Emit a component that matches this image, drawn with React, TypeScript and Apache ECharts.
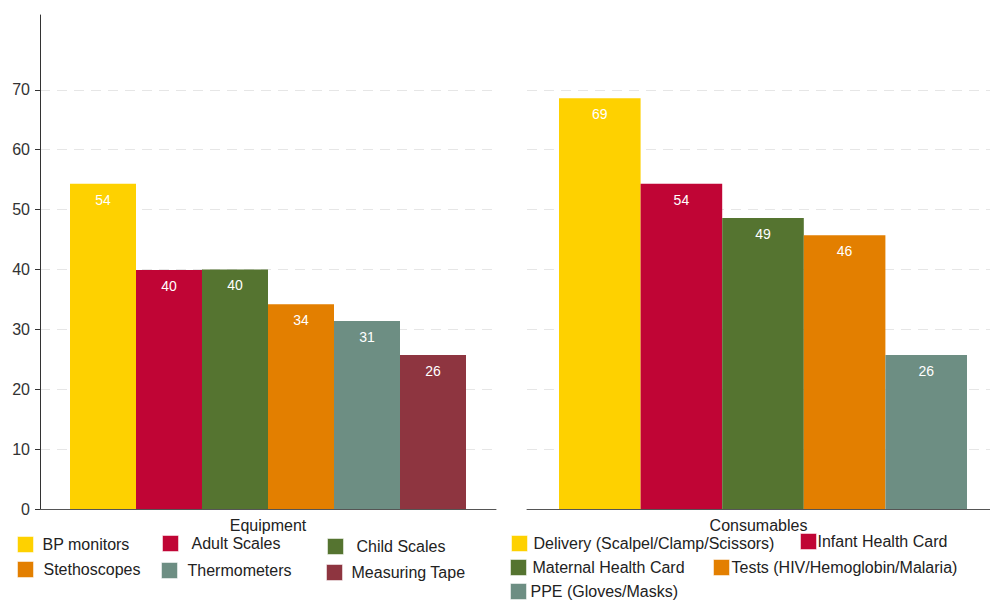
import React, { useEffect, useRef } from "react";
import * as echarts from "echarts";

const equipNames = ["BP monitors", "Adult Scales", "Child Scales", "Stethoscopes", "Thermometers", "Measuring Tape"];
const equipValues = [54.3, 39.9, 40.0, 34.2, 31.4, 25.7];
const equipColors = ["#FED100", "#C00535", "#557430", "#E37F00", "#6D8E83", "#8E3540"];

const consNames = [
  "Delivery (Scalpel/Clamp/Scissors)",
  "Infant Health Card",
  "Maternal Health Card",
  "Tests (HIV/Hemoglobin/Malaria)",
  "PPE (Gloves/Masks)",
];
const consValues = [68.6, 54.3, 48.6, 45.7, 25.7];
const consColors = ["#FED100", "#C00535", "#557430", "#E37F00", "#6D8E83"];

const yTicks = [0, 10, 20, 30, 40, 50, 60, 70];
const panelNames = ["Equipment", "Consumables"];

// legend item layout: [left, top, text gap after icon]
const equipLegendPos = [
  [17, 536, 9], [162, 535, 13], [327, 538, 13],
  [17, 561, 10], [161, 562, 10], [326, 564, 9],
];
const consLegendPos = [
  [511, 535, 6], [800, 533, 1],
  [510, 559, 6], [713, 559, 2],
  [510, 583, 4],
];

const FONT = "Liberation Sans, Arial, sans-serif";

export default function App() {
  const ref = useRef<HTMLDivElement>(null);
  useEffect(() => {
    if (!ref.current) return;
    const chart = echarts.init(ref.current, undefined, { renderer: "svg" });

    const yBase = (show: boolean, gi: number) => ({
      type: "value",
      gridIndex: gi,
      min: 0,
      max: 82.5,
      interval: 10,
      axisLine: { show, lineStyle: { color: "#333", width: 1 } },
      axisTick: { show, length: 5, customValues: yTicks, lineStyle: { color: "#333" } },
      axisLabel: {
        show,
        customValues: yTicks,
        margin: 10,
        fontSize: 16,
        color: "#333",
        fontFamily: FONT,
      },
      splitLine: {
        show: true,
        lineStyle: { color: "#e6e6e6", type: [10, 7], width: 1 },
      },
    });

    const xBase = (gi: number) => ({
      type: "category",
      gridIndex: gi,
      data: [panelNames[gi]],
      axisLine: { show: true, lineStyle: { color: "#555", width: 1 } },
      axisTick: { show: false },
      axisLabel: { margin: 8, fontSize: 16, color: "#222", fontFamily: FONT },
    });

    const labelCfg = {
      show: true,
      position: "insideTop",
      distance: 9,
      color: "#fff",
      fontSize: 14,
      fontFamily: FONT,
      formatter: (p: any) => String(Math.round(p.value)),
    };

    const series: any[] = [];
    equipNames.forEach((n, i) => {
      series.push({
        type: "bar",
        name: n,
        xAxisIndex: 0,
        yAxisIndex: 0,
        data: [equipValues[i]],
        barWidth: 66,
        barGap: "0%",
        itemStyle: { color: equipColors[i] },
        label: labelCfg,
      });
    });
    // invisible spacer to shift the consumables group slightly right
    series.push({
      type: "bar",
      name: "_spacer",
      xAxisIndex: 1,
      yAxisIndex: 1,
      data: [0],
      barWidth: 9,
      barGap: "0%",
      itemStyle: { color: "rgba(0,0,0,0)" },
      label: { show: false },
      silent: true,
    });
    consNames.forEach((n, i) => {
      series.push({
        type: "bar",
        name: n,
        xAxisIndex: 1,
        yAxisIndex: 1,
        data: [consValues[i]],
        barWidth: 81.6,
        barGap: "0%",
        itemStyle: { color: consColors[i] },
        label: labelCfg,
      });
    });

    const legendItem = (name: string, pos: number[]) => ({
      data: [name],
      left: pos[0],
      top: pos[1],
      orient: "horizontal",
      padding: 0,
      itemWidth: 16,
      itemHeight: 16,
      icon: "rect",
      selectedMode: false,
      itemStyle: { borderColor: "rgba(255,255,255,0.5)", borderWidth: 1 },
      textStyle: {
        fontSize: 16,
        color: "#222",
        fontFamily: FONT,
        padding: [0, 0, 0, pos[2] - 5],
      },
    });

    const legends: any[] = [];
    equipNames.forEach((n, i) => legends.push(legendItem(n, equipLegendPos[i])));
    consNames.forEach((n, i) => legends.push(legendItem(n, consLegendPos[i])));

    chart.setOption({
      animation: false,
      backgroundColor: "#fff",
      grid: [
        { left: 40, top: 15, width: 456, height: 494 },
        { left: 527, top: 15, width: 463, height: 494 },
      ],
      xAxis: [xBase(0), xBase(1)],
      yAxis: [yBase(true, 0), yBase(false, 1)],
      legend: legends,
      series,
    });
    return () => chart.dispose();
  }, []);
  return (
    <div
      ref={ref}
      style={{ position: "fixed", left: 0, top: 0, width: 990, height: 601, background: "#fff" }}
    />
  );
}
